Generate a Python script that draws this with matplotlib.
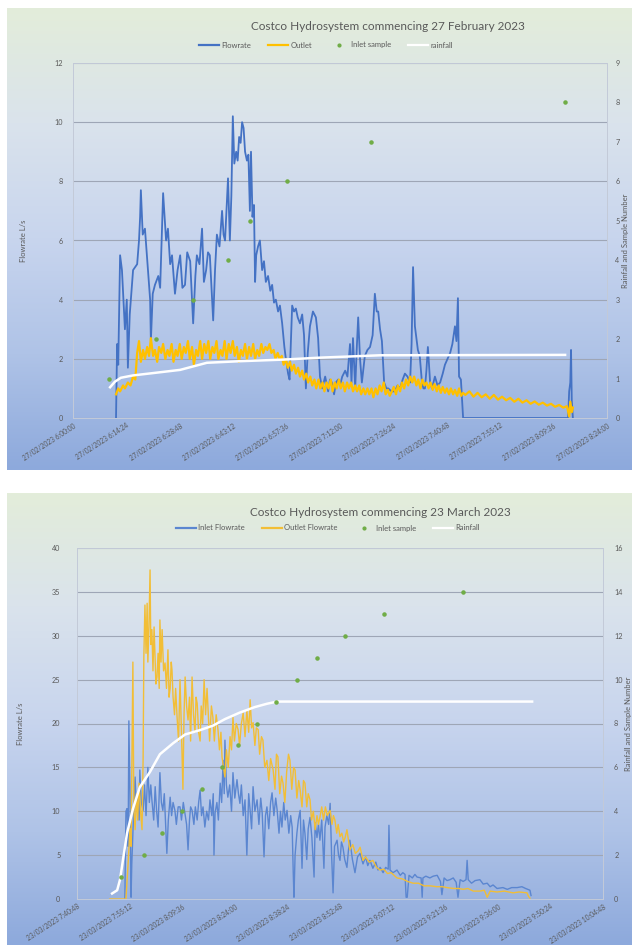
import numpy as np
import matplotlib
matplotlib.use('Agg')
import matplotlib.pyplot as plt
from matplotlib.colors import LinearSegmentedColormap
from matplotlib.lines import Line2D
from matplotlib.ticker import FuncFormatter, MultipleLocator

plt.rcParams['font.family'] = ['Lato', 'DejaVu Sans']

# ---------- chart 1 : 27 February 2023, time in minutes after 6:00:00 ----------
feb_flow_t = [11.6, 11.9, 12.2, 12.7, 13.2, 14.0, 14.5, 14.8, 15.3, 16.2, 17.3, 17.8, 18.1, 18.3, 18.8,
              19.4, 20.2, 20.8, 21.0, 21.5, 22.1, 23.0, 23.5, 24.3, 25.1, 25.6, 26.2, 26.7, 27.5, 28.2,
              28.9, 29.5, 30.2, 30.8, 31.6, 32.4, 33.0, 33.4, 34.1, 34.8, 35.3, 35.9, 36.4, 36.9, 37.8,
              38.3, 38.8, 39.5, 40.2, 40.6, 41.0, 41.8, 42.3, 42.7, 43.1, 43.5, 44.0, 44.4, 44.8, 45.2,
              45.6, 46.0, 46.4, 46.9, 47.3, 47.7, 48.0, 48.4, 48.8, 49.1, 49.4, 49.9, 50.4, 51.0, 51.5,
              52.0, 52.6, 53.2, 53.7, 54.2, 54.7, 55.3, 55.8, 56.4, 57.0, 57.4, 58.0, 58.4, 59.1, 59.6,
              60.1, 60.6, 61.2, 61.8, 62.3, 62.8, 63.3, 63.9, 64.7, 65.5, 66.1, 66.6, 67.2, 68.0, 68.8,
              69.3, 69.8, 70.4, 70.9, 71.5, 72.0, 72.6, 73.4, 74.0, 74.7, 75.1, 75.5, 76.1, 76.5, 76.9,
              77.4, 77.9, 78.7, 79.4, 80.1, 80.8, 81.4, 81.9, 82.3, 82.8, 83.3, 83.9, 84.5, 85.0, 85.9,
              86.8, 87.5, 88.2, 88.9, 89.5, 90.2, 90.9, 91.3, 91.7, 92.2, 93.0, 93.5, 94.1, 94.5, 94.9,
              95.3, 95.7, 96.3, 96.8, 97.6, 98.3, 99.0, 99.7, 100.3, 101.0, 101.7, 102.3, 103.0, 103.4,
              103.8, 104.1, 104.6, 105.2, 133.5, 133.8, 134.1, 134.3, 134.5, 134.8]
feb_flow = [0.0, 2.5, 1.8, 5.5, 5.0, 3.0, 4.0, 1.7, 3.5, 5.0, 5.2, 6.0, 6.8, 7.7, 6.2,
            6.4, 5.0, 4.0, 2.6, 4.2, 4.5, 4.8, 4.4, 7.6, 6.0, 6.4, 5.2, 5.5, 4.2, 5.0,
            5.5, 4.4, 4.5, 5.6, 5.3, 3.2, 4.8, 5.5, 5.2, 6.4, 4.6, 5.0, 5.6, 5.5, 3.3,
            5.0, 6.2, 5.8, 7.0, 6.2, 6.0, 8.1, 6.0, 7.5, 10.2, 8.6, 9.0, 8.7, 9.5, 9.3,
            10.0, 9.8, 9.0, 8.7, 8.9, 7.0, 9.0, 6.8, 7.2, 4.6, 5.5, 5.8, 6.0, 5.0, 5.3,
            4.6, 4.8, 4.3, 4.5, 3.9, 4.0, 3.6, 3.8, 3.2, 2.4, 2.0, 1.5, 1.3, 3.8, 3.6,
            3.7, 3.4, 3.2, 3.5, 2.8, 1.0, 2.2, 3.1, 3.6, 3.4, 2.7, 1.4, 1.0, 1.4, 0.9,
            1.3, 1.2, 0.8, 1.2, 1.3, 1.1, 1.4, 1.6, 1.4, 2.5, 1.2, 2.7, 1.0, 2.3, 3.4,
            2.0, 1.2, 2.1, 2.3, 2.4, 2.8, 4.2, 3.6, 3.6, 3.0, 2.6, 1.2, 1.0, 1.0, 0.9,
            0.9, 1.1, 1.0, 1.3, 1.5, 1.4, 1.2, 2.5, 5.1, 3.1, 2.3, 2.1, 1.2, 1.0, 1.0,
            1.6, 2.4, 1.2, 1.0, 1.4, 1.1, 1.2, 1.5, 1.8, 2.0, 2.2, 2.5, 3.1, 2.6,
            4.05, 1.4, 1.3, 0.0, 0.0, 0.9, 1.2, 2.3, 0.6, 0.0]

feb_out_t = [11.6, 12.2, 12.7, 13.5, 14.0, 14.8, 15.5, 16.2, 16.8, 17.3, 17.8, 18.3, 18.9, 19.4, 20.0,
             20.5, 21.0, 21.6, 22.1, 22.7, 23.2, 23.8, 24.3, 24.9, 25.5, 26.0, 26.6, 27.1, 27.7, 28.2,
             28.8, 29.3, 29.9, 30.4, 31.0, 31.5, 32.1, 32.6, 33.2, 33.7, 34.3, 34.8, 35.4, 35.9, 36.5,
             37.0, 37.6, 38.1, 38.7, 39.2, 39.8, 40.3, 40.9, 41.4, 42.0, 42.5, 43.1, 43.6, 44.2, 44.7,
             45.3, 45.8, 46.4, 46.9, 47.5, 48.0, 48.6, 49.1, 49.7, 50.2, 50.8, 51.3, 51.9, 52.4, 53.0,
             53.5, 54.1, 54.6, 55.2, 55.7, 56.3, 56.8, 57.4, 57.9, 58.5, 59.0, 59.6, 60.1, 60.7, 61.2,
             61.8, 62.3, 62.9, 63.4, 64.0, 64.5, 65.1, 65.6, 66.2, 66.7, 67.3, 67.8, 68.4, 68.9, 69.5,
             70.0, 70.6, 71.1, 71.7, 72.2, 72.8, 73.3, 73.9, 74.4, 75.0, 75.5, 76.1, 76.6, 77.2, 77.7,
             78.3, 78.8, 79.4, 79.9, 80.5, 81.0, 81.6, 82.1, 82.7, 83.2, 83.8, 84.3, 84.9, 85.4, 86.0,
             86.5, 87.1, 87.6, 88.2, 88.7, 89.3, 89.8, 90.4, 90.9, 91.5, 92.0, 92.6, 93.1, 93.7, 94.2,
             94.8, 95.3, 95.9, 96.4, 97.0, 97.5, 98.1, 98.6, 99.2, 99.7, 100.3, 100.8, 101.4, 101.9, 102.5,
             103.0, 103.6, 104.1, 104.7, 105.2, 105.8, 106.9, 108.0, 109.1, 110.2, 111.3, 112.4, 113.5, 114.6,
             115.7, 116.8, 117.9, 119.0, 120.1, 121.2, 122.3, 123.4, 124.5, 125.6, 126.7, 127.8, 128.9, 130.0,
             131.1, 132.2, 133.2, 133.8, 134.1, 134.5, 134.8]
feb_out = [0.8, 1.0, 0.9, 1.1, 1.0, 1.2, 1.1, 1.4, 1.3, 2.2, 2.6, 1.9, 2.3, 2.0, 2.4,
           2.1, 2.7, 2.1, 2.3, 1.9, 2.4, 2.2, 2.5, 2.0, 2.3, 2.1, 2.5, 1.9, 2.3, 2.1,
           2.5, 2.0, 2.4, 2.2, 2.6, 2.0, 2.4, 1.8, 2.3, 2.1, 2.6, 2.0, 2.5, 2.2, 2.6,
           2.0, 2.4, 2.2, 2.6, 2.0, 2.3, 2.1, 2.6, 2.0, 2.5, 2.2, 2.6, 2.1, 2.4, 1.9,
           2.3, 2.1, 2.5, 2.0, 2.4, 2.1, 2.5, 2.0, 2.3, 2.1, 2.5, 2.2, 2.4, 2.3, 2.5,
           2.2, 2.3, 2.0, 2.2, 2.0, 2.1, 1.8, 2.0, 1.7, 1.9, 1.6, 1.8, 1.5, 1.7, 1.4,
           1.6, 1.3, 1.5, 1.2, 1.4, 1.1, 1.3, 1.0, 1.3, 1.0, 1.2, 0.9, 1.2, 1.0, 1.3,
           0.9, 1.2, 1.0, 1.3, 1.0, 1.2, 0.9, 1.2, 1.0, 1.2, 0.9, 1.1, 0.9, 1.1, 0.8,
           1.0, 0.8, 1.0, 0.8, 1.0, 0.7, 1.0, 0.8, 1.1, 0.9, 1.2, 0.8, 0.95, 0.75, 0.9,
           1.05, 0.8, 1.1, 0.9, 1.2, 1.0, 1.3, 1.1, 1.4, 1.2, 1.4, 1.1, 1.3, 1.0, 1.3,
           1.1, 1.2, 1.0, 1.2, 0.95, 1.15, 0.9, 1.1, 0.85, 1.05, 0.85, 1.0, 0.8, 1.0, 0.8,
           0.95, 0.75, 1.0, 0.75, 0.85, 0.78, 0.9, 0.72, 0.85, 0.7, 0.8, 0.65, 0.78, 0.62,
           0.72, 0.6, 0.68, 0.55, 0.65, 0.52, 0.6, 0.48, 0.56, 0.45, 0.52, 0.42, 0.48, 0.38,
           0.44, 0.35, 0.4, 0.05, 0.55, 0.2, 0.35]

feb_rain_t = [10.0, 11.3, 12.9, 16.2, 20.8, 28.9, 36.1, 45.0, 56.6, 66.6, 82.8, 132.7]
feb_rain = [0.78, 0.92, 1.02, 1.08, 1.13, 1.22, 1.40, 1.44, 1.48, 1.53, 1.59, 1.60]

feb_sample_t = [9.7, 22.4, 32.4, 41.8, 47.7, 57.7, 80.4, 132.7]
feb_sample = [1, 2, 3, 4, 5, 6, 7, 8]

# ---------- chart 2 : 23 March 2023, time in minutes after 7:40:48 ----------
mar_in_t = [13.1, 13.4, 13.7, 14.0, 14.2, 14.5, 14.8, 15.0, 15.3, 15.6, 15.9, 16.3, 16.7, 17.0, 17.2,
            17.6, 18.1, 18.5, 18.9, 19.4, 19.8, 20.2, 20.5, 21.0, 21.4, 21.8, 22.2, 22.5, 22.7, 23.1,
            23.5, 23.9, 24.2, 24.6, 25.0, 25.5, 25.9, 26.3, 26.8, 27.2, 27.7, 28.2, 28.6, 29.1, 29.6,
            30.0, 30.4, 30.8, 31.1, 31.5, 32.0, 32.4, 32.9, 33.3, 33.7, 34.1, 34.5, 35.0, 35.5, 36.0,
            36.4, 36.9, 37.3, 37.5, 37.8, 38.3, 38.7, 39.2, 39.6, 40.0, 40.3, 40.5, 40.9, 41.3, 41.8,
            42.3, 42.7, 43.2, 43.8, 44.2, 44.6, 45.0, 45.5, 46.0, 46.5, 47.0, 47.4, 47.8, 48.2, 48.7,
            49.3, 49.8, 50.3, 50.7, 51.2, 51.6, 52.0, 52.5, 53.0, 53.4, 53.9, 54.4, 54.8, 55.3, 55.7,
            56.1, 56.6, 57.0, 57.5, 58.0, 58.5, 58.9, 59.2, 59.4, 59.7, 60.2, 60.6, 61.1, 61.6, 62.0,
            62.4, 62.9, 63.3, 63.8, 64.3, 64.9, 65.2, 65.7, 66.1, 66.5, 67.0, 67.6, 67.9, 68.4, 68.9,
            69.3, 69.7, 70.1, 70.5, 71.2, 71.6, 72.0, 72.4, 72.8, 73.3, 73.9, 74.3, 74.7, 75.4, 76.1,
            76.8, 77.5, 78.3, 79.0, 79.6, 80.2, 81.0, 81.8, 82.4, 83.0, 83.8, 84.5, 85.2, 85.4, 85.7,
            86.5, 87.6, 88.5, 89.2, 89.8, 90.1, 90.4, 90.9, 91.8, 92.5, 93.1, 94.2, 94.5, 94.7, 95.5,
            96.6, 97.5, 98.6, 99.5, 99.9, 100.5, 101.3, 102.1, 103.0, 103.8, 104.3, 104.9, 105.7, 106.5,
            106.8, 107.1, 108.0, 109.0, 110.3, 111.2, 112.3, 113.1, 113.9, 115.0, 116.6, 117.8, 119.0,
            120.5, 121.8, 122.8, 124.0, 124.3]
mar_in = [0.0, 10.0, 10.3, 6.0, 20.3, 12.0, 0.2, 4.0, 7.5, 11.0, 13.9, 10.0, 12.1, 9.0, 14.7,
          11.0, 10.1, 13.0, 9.5, 15.0, 11.0, 13.0, 11.3, 9.0, 12.8, 10.0, 8.2, 12.0, 14.4, 11.0,
          10.1, 12.0, 9.0, 5.2, 9.0, 11.6, 9.5, 11.0, 10.1, 8.5, 10.5, 10.5, 9.0, 11.0, 9.6,
          8.5, 5.6, 9.0, 10.5, 10.1, 8.5, 10.5, 9.0, 11.0, 12.4, 9.5, 10.5, 8.2, 10.0, 9.0,
          11.3, 9.5, 12.0, 5.0, 9.8, 11.0, 9.0, 13.2, 11.0, 15.8, 12.0, 18.1, 13.0, 11.6, 13.0,
          10.0, 14.4, 11.5, 13.6, 12.0, 10.9, 13.0, 9.5, 11.3, 5.0, 12.0, 10.1, 8.0, 12.8, 10.0,
          11.3, 8.5, 11.5, 9.8, 4.8, 9.5, 10.5, 8.0, 11.0, 12.1, 9.5, 11.5, 10.1, 7.5, 10.0,
          8.2, 11.0, 9.0, 10.1, 7.5, 9.5, 8.2, 3.0, 0.2, 5.0, 7.5, 9.0, 10.1, 3.5, 9.0,
          7.5, 4.5, 8.0, 9.3, 7.0, 2.5, 8.7, 7.0, 8.5, 6.7, 9.0, 3.5, 8.2, 9.5, 8.5,
          10.9, 5.0, 0.7, 6.0, 6.7, 5.0, 4.4, 6.5, 5.9, 4.5, 3.6, 5.5, 6.7, 4.5, 3.0,
          4.8, 5.2, 4.0, 4.8, 3.8, 4.4, 3.5, 4.2, 3.3, 3.6, 3.0, 3.6, 3.4, 8.4, 3.3,
          3.0, 3.3, 2.7, 3.0, 2.8, 0.2, 0.2, 2.7, 2.4, 2.8, 2.5, 2.4, 0.2, 2.4, 2.6,
          2.4, 2.6, 2.7, 2.0, 0.5, 2.4, 2.1, 2.2, 2.4, 1.9, 0.2, 2.2, 2.0, 2.2,
          4.4, 2.2, 1.8, 2.1, 2.2, 1.7, 1.8, 1.4, 1.6, 1.2, 1.3, 1.1, 1.3,
          1.3, 1.4, 1.2, 1.0, 0.4]

mar_out_t = [9.0, 13.4, 14.0, 14.5, 14.8, 15.1, 15.3, 15.5, 15.6, 15.9, 16.3, 16.6, 17.0, 17.4, 17.8,
             18.1, 18.3, 18.6, 18.9, 19.2, 19.4, 19.7, 20.0, 20.2, 20.5, 20.8, 21.1, 21.4, 21.6, 21.9,
             22.2, 22.5, 22.7, 23.0, 23.3, 23.7, 24.1, 24.5, 24.9, 25.2, 25.5, 25.8, 26.0, 26.3, 26.7,
             27.0, 27.4, 27.8, 28.2, 28.6, 29.0, 29.3, 29.6, 30.0, 30.4, 30.8, 31.1, 31.5, 31.9, 32.3,
             32.6, 32.9, 33.3, 33.7, 34.0, 34.4, 34.8, 35.2, 35.6, 35.9, 36.3, 36.8, 37.2, 37.6, 38.1,
             38.6, 39.0, 39.4, 39.7, 40.1, 40.5, 40.9, 41.4, 41.9, 42.3, 42.7, 43.1, 43.6, 44.1, 44.5,
             45.0, 45.5, 46.0, 46.5, 47.0, 47.4, 47.8, 48.2, 48.7, 49.1, 49.6, 50.0, 50.5, 50.9, 51.4,
             52.0, 52.5, 53.0, 53.7, 54.2, 54.6, 55.0, 55.5, 56.0, 56.4, 56.9, 57.4, 57.9, 58.3, 58.8,
             59.3, 59.7, 60.2, 60.7, 61.1, 61.6, 62.0, 62.4, 62.9, 63.3, 63.8, 64.2, 64.7, 65.2, 65.7,
             66.1, 66.5, 67.0, 67.5, 68.0, 68.5, 69.3, 69.8, 70.2, 70.6, 71.1, 71.5, 72.0, 72.5, 73.0,
             73.4, 73.9, 74.7, 75.5, 76.2, 77.0, 77.5, 78.3, 79.0, 80.0, 81.0, 82.0, 83.0, 84.0, 85.0,
             86.0, 87.6, 89.0, 90.5, 92.0, 93.5, 95.0, 96.7, 98.5, 100.0, 101.3, 103.0, 104.5, 105.7,
             107.0, 108.5, 110.3, 111.5, 112.3, 113.1, 115.0, 117.0, 119.4, 121.0, 123.2, 123.6, 124.0]
mar_out = [0.0, 0.0, 4.1, 8.0, 6.0, 18.0, 27.0, 14.0, 10.0, 7.9, 12.0, 9.0, 13.2, 10.0, 7.9,
           16.0, 27.6, 33.5, 28.0, 33.7, 27.0, 31.0, 37.5, 29.0, 30.7, 26.0, 31.0, 27.0, 24.5, 25.3,
           28.0, 24.0, 31.8, 27.0, 30.7, 26.0, 26.9, 24.0, 28.4, 23.0, 24.0, 27.0, 26.1, 23.0, 21.0,
           24.0, 20.7, 18.0, 25.0, 19.0, 12.5, 21.0, 25.3, 22.0, 20.4, 23.0, 18.0, 25.3, 21.0, 19.0,
           23.0, 22.3, 19.0, 18.0, 22.0, 20.0, 25.0, 21.0, 24.0, 21.5, 18.0, 22.0, 20.7, 18.0, 21.0,
           19.3, 17.0, 19.0, 16.2, 15.0, 13.9, 17.0, 15.0, 18.5, 17.0, 20.7, 18.0, 20.0, 19.3, 17.5,
           20.0, 21.2, 18.5, 21.5, 19.0, 22.7, 19.5, 20.1, 17.5, 19.5, 19.3, 16.5, 18.5, 18.1, 15.0,
           15.8, 13.5, 16.0, 14.7, 12.5, 16.5, 16.2, 12.0, 14.0, 13.2, 11.0, 14.5, 16.5, 15.8, 12.5,
           15.0, 14.7, 11.5, 13.5, 12.4, 10.5, 13.5, 13.2, 10.5, 12.0, 11.3, 9.0, 10.0, 7.9, 9.5,
           8.5, 9.3, 10.5, 9.0, 10.5, 9.5, 10.1, 8.5, 9.5, 9.0, 7.5, 8.5, 7.1, 7.5, 6.5,
           7.0, 7.9, 5.6, 6.2, 5.2, 5.5, 5.9, 4.4, 4.8, 4.2, 4.4, 3.6, 3.3, 3.4, 2.9,
           3.0, 2.4, 2.3, 2.0, 1.8, 1.8, 1.5, 1.5, 1.4, 1.4, 1.3, 1.2, 1.2, 1.1,
           1.2, 0.9, 0.9, 1.0, 0.2, 0.9, 0.8, 0.9, 0.7, 0.8, 0.7, 0.3, 0.1]

mar_rain_t = [9.6, 11.0, 11.8, 12.6, 13.7, 15.3, 17.2, 20.0, 22.7, 26.3, 29.6, 33.7, 37.2, 40.5, 44.6,
              48.7, 52.0, 54.8, 124.6]
mar_rain = [0.25, 0.4, 0.9, 1.8, 3.0, 4.1, 5.1, 5.8, 6.6, 7.1, 7.5, 7.7, 7.9, 8.2, 8.5,
            8.75, 8.9, 9.0, 9.0]

mar_sample_t = [12.0, 18.3, 23.3, 28.7, 34.2, 39.7, 44.1, 49.3, 54.5, 60.2, 65.7, 73.4, 84.1, 105.7]
mar_sample = [1, 2, 3, 4, 5, 6, 7, 8, 9, 10, 11, 12, 13, 14]

BLUE = '#4472C4'
GOLD = '#FFC000'
GREEN = '#70AD47'
TXT = '#595959'

fig = plt.figure(figsize=(6.39, 9.5), dpi=100)

grad = LinearSegmentedColormap.from_list(
    'bg', [(0, '#E3EDDA'), (0.25, '#DAE3EC'), (0.5, '#C8D5EE'), (0.75, '#AFC3E7'), (1, '#8DA9DC')])


def panel(rect):
    bg = fig.add_axes(rect, zorder=-10)
    bg.imshow(np.linspace(0, 1, 256).reshape(-1, 1), aspect='auto', cmap=grad,
              extent=[0, 1, 0, 1])
    bg.axis('off')


def time_fmt(day, start_sec):
    def f(v, pos):
        s = int(round(start_sec + v * 60))
        return '%s %d:%02d:%02d' % (day, s // 3600, (s % 3600) // 60, s % 60)
    return FuncFormatter(f)


def chart(rect, ymax, ystep, rmax, rstep, day, start_sec, left_pad, right_pad):
    ax = fig.add_axes(rect)
    ax.set_facecolor('none')
    ax.set_xlim(0, 144)
    ax.set_ylim(0, ymax)
    ax.yaxis.set_major_locator(MultipleLocator(ystep))
    ax.xaxis.set_major_locator(MultipleLocator(14.4))
    ax.xaxis.set_major_formatter(time_fmt(day, start_sec))
    ax.grid(axis='y', color='#9ea6b6', lw=0.8)
    ax.set_axisbelow(True)
    ax.tick_params(axis='both', length=0, labelsize=5.2, labelcolor=TXT)
    ax.tick_params(axis='y', pad=left_pad)
    ax.tick_params(axis='x', pad=3, labelsize=4.8)
    for lab in ax.get_xticklabels():
        lab.set_rotation(33)
        lab.set_ha('right')
        lab.set_rotation_mode('anchor')
    ax.set_ylabel('Flowrate L/s', fontsize=5.5, color=TXT, labelpad=20)
    for sp in ax.spines.values():
        sp.set_color('#c3cad8')
        sp.set_linewidth(0.7)
    ax2 = ax.twinx()
    ax2.set_ylim(0, rmax)
    ax2.yaxis.set_major_locator(MultipleLocator(rstep))
    ax2.tick_params(axis='y', length=0, labelsize=5.2, labelcolor=TXT, pad=right_pad)
    ax2.set_ylabel('Rainfall and Sample Number', fontsize=5.5, color=TXT, labelpad=2)
    for sp in ax2.spines.values():
        sp.set_visible(False)
    return ax, ax2


# ---------- top chart ----------
panel([7 / 639, 1 - 470 / 950, 625 / 639, 462 / 950])
ax, ax2 = chart([73 / 639, 1 - 418 / 950, 534 / 639, 355 / 950], 12, 2, 9, 1,
                '27/02/2023', 6 * 3600, 7, 6)
ax.plot(feb_flow_t, feb_flow, color=BLUE, lw=1.3, zorder=2)
ax.plot(feb_out_t, feb_out, color=GOLD, lw=1.6, zorder=3)
ax2.plot(feb_rain_t, feb_rain, color='white', lw=1.8, zorder=3)
ax2.scatter(feb_sample_t, feb_sample, s=5, color=GREEN, zorder=4)
fig.text(388 / 639, 1 - 27 / 950, 'Costco Hydrosystem commencing 27 February 2023',
         ha='center', va='center', fontsize=8.5, color=TXT)
handles = [Line2D([], [], color=BLUE, lw=1.6), Line2D([], [], color=GOLD, lw=1.6),
           Line2D([], [], color=GREEN, marker='o', ls='none', ms=2),
           Line2D([], [], color='white', lw=1.6)]
fig.legend(handles, ['Flowrate', 'Outlet', 'Inlet sample', 'rainfall'], loc='center',
           bbox_to_anchor=(326 / 639, 1 - 45 / 950), ncol=4, frameon=False, fontsize=5.5,
           labelcolor=TXT, handlelength=2.6, handletextpad=0.3, columnspacing=2.2)

# ---------- bottom chart ----------
panel([7 / 639, 1 - 945 / 950, 625 / 639, 452 / 950])
bx, bx2 = chart([77 / 639, 1 - 899 / 950, 526 / 639, 351 / 950], 40, 5, 16, 2,
                '23/03/2023', 7 * 3600 + 40 * 60 + 48, 12, 8)
bx.plot(mar_in_t, mar_in, color='#5B86D0', lw=1.0, zorder=2)
bx.plot(mar_out_t, mar_out, color='#F2BE36', lw=1.0, zorder=3)
bx2.plot(mar_rain_t, mar_rain, color='white', lw=1.8, zorder=3)
bx2.scatter(mar_sample_t, mar_sample, s=5, color=GREEN, zorder=4)
fig.text(380 / 639, 1 - 512 / 950, 'Costco Hydrosystem commencing 23 March 2023',
         ha='center', va='center', fontsize=8.5, color=TXT)
handles = [Line2D([], [], color='#5B86D0', lw=1.6), Line2D([], [], color='#F2BE36', lw=1.6),
           Line2D([], [], color=GREEN, marker='o', ls='none', ms=2),
           Line2D([], [], color='white', lw=1.6)]
fig.legend(handles, ['Inlet Flowrate', 'Outlet Flowrate', 'Inlet sample', 'Rainfall'], loc='center',
           bbox_to_anchor=(328 / 639, 1 - 528 / 950), ncol=4, frameon=False, fontsize=5.5,
           labelcolor=TXT, handlelength=2.6, handletextpad=0.3, columnspacing=2.2)

fig.savefig('out.png', dpi=100)
